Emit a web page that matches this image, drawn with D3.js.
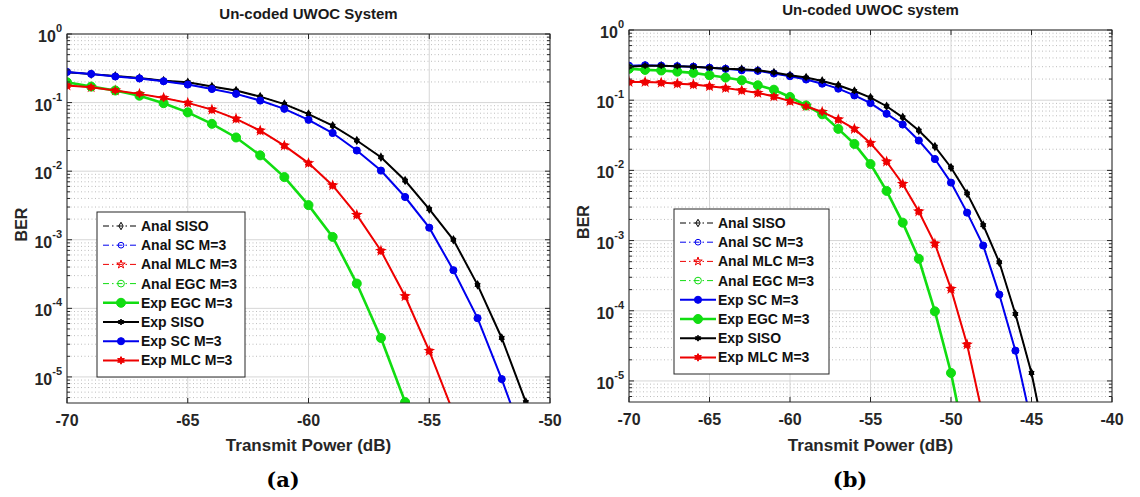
<!DOCTYPE html>
<html>
<head>
<meta charset="utf-8">
<script src="https://cdn.jsdelivr.net/npm/d3@7"></script>
<style>
  body { margin: 0; background: #fff; }
  svg { font-family: "Liberation Sans", Arial, sans-serif; font-weight: bold; }
</style>
</head>
<body>
<svg id="chart" width="1140" height="497"></svg>
<script>
// ---- datos panel (a) ----
const potA = [-70,-69,-68,-67,-66,-65,-64,-63,-62,-61,-60,-59,-58,-57,-56,-55,-54,-53,-52,-51];
const sisoA = [0.277,0.26,0.245,0.229,0.209,0.198,0.171,0.15,0.122,0.095,0.068,0.046,0.028,0.016,0.0073,0.0028,0.001,2.2e-4,3.7e-5,4.3e-6];
const scA   = [0.28,0.262,0.24,0.225,0.205,0.183,0.158,0.134,0.107,0.081,0.056,0.036,0.02,0.0102,0.0042,0.0015,3.6e-4,7.2e-5,9.3e-6,1e-6];
const mlcA  = [0.177,0.167,0.15,0.134,0.117,0.099,0.079,0.058,0.039,0.0236,0.0131,0.0062,0.0023,6.9e-4,1.5e-4,2.4e-5,3e-6];
const egcA  = [0.198,0.171,0.15,0.126,0.098,0.072,0.049,0.031,0.017,0.0082,0.0032,0.0011,2.3e-4,3.7e-5,4.3e-6];

// ---- datos panel (b) ----
const potB = [-70,-69,-68,-67,-66,-65,-64,-63,-62,-61,-60,-59,-58,-57,-56,-55,-54,-53,-52,-51,-50,-49,-48,-47,-46,-45,-44];
const sisoB = [0.30,0.31,0.31,0.305,0.30,0.29,0.28,0.277,0.267,0.248,0.227,0.21,0.188,0.163,0.135,0.109,0.082,0.057,0.037,0.0218,0.011,0.0047,0.00166,4.9e-4,9e-5,1.3e-5,1e-6];
const scB   = [0.31,0.315,0.31,0.305,0.30,0.29,0.28,0.267,0.262,0.24,0.22,0.197,0.172,0.146,0.117,0.091,0.064,0.045,0.0266,0.0145,0.0067,0.0025,8.5e-4,1.7e-4,2.7e-5,2.5e-6];
const mlcB  = [0.182,0.182,0.178,0.172,0.167,0.158,0.149,0.138,0.127,0.113,0.097,0.082,0.068,0.053,0.039,0.0244,0.0133,0.0064,0.0026,9e-4,2.05e-4,3.3e-5,3e-6];
const egcB  = [0.28,0.27,0.265,0.255,0.245,0.227,0.21,0.192,0.163,0.141,0.111,0.084,0.063,0.039,0.0238,0.0123,0.0051,0.0018,5.5e-4,9.8e-5,1.3e-5,1e-6];

const xTicks = { a: [-70,-65,-60,-55,-50], b: [-70,-65,-60,-55,-50,-45,-40] };
const yExps = [0,-1,-2,-3,-4,-5];

const colores = { SISO: "#000000", SC: "#0000ee", MLC: "#ee0000", EGC: "#11dd11" };

// hexagrama tipo matlab
const hexagrama = {
  draw(ctx, size) {
    const r = Math.sqrt(size) * 0.75, ri = r * 0.55;
    for (let i = 0; i < 12; i++) {
      const a = -Math.PI / 2 + i * Math.PI / 6;
      const rr = i % 2 ? ri : r;
      if (i === 0) ctx.moveTo(rr * Math.cos(a), rr * Math.sin(a));
      else ctx.lineTo(rr * Math.cos(a), rr * Math.sin(a));
    }
    ctx.closePath();
  }
};

// estilo de cada curva (analitica = discontinua con marcador hueco)
function estilo(nombre) {
  const anal = nombre.startsWith("Anal");
  const tipo = nombre.split(" ")[1];
  let simbolo = d3.symbolCircle, area = 30;
  if (tipo === "SISO") { simbolo = anal ? d3.symbolDiamond : hexagrama; area = 16; }
  if (tipo === "MLC") { simbolo = anal ? d3.symbolStar : hexagrama; area = anal ? 22 : 26; }
  if (tipo === "SC") { area = anal ? 26 : 40; }
  if (tipo === "EGC") { area = anal ? 36 : 64; }
  return {
    anal, color: colores[tipo], simbolo, area,
    ancho: anal ? 1 : (tipo === "EGC" ? 2.6 : 2),
    dash: anal ? "6,3,1.5,3" : null
  };
}

const svg = d3.select("#chart");

function dibujarPanel(cfg) {
  const x = d3.scaleLinear().domain(cfg.xDom).range([cfg.left, cfg.right]);
  const y = d3.scaleLog().domain([cfg.yMin, 1]).range([cfg.bottom, cfg.top]);
  const g = svg.append("g");

  g.append("rect")
    .attr("x", cfg.left).attr("y", cfg.top)
    .attr("width", cfg.right - cfg.left).attr("height", cfg.bottom - cfg.top)
    .attr("fill", "#fff");

  // rejilla menor (puntos)
  const menores = [];
  yExps.concat([-6]).forEach(e => {
    for (let k = 2; k <= 9; k++) {
      const v = k * Math.pow(10, e);
      if (v > cfg.yMin && v < 1) menores.push(v);
    }
  });
  g.selectAll("line.minor").data(menores).join("line")
    .attr("x1", cfg.left).attr("x2", cfg.right)
    .attr("y1", d => y(d)).attr("y2", d => y(d))
    .attr("stroke", "#b5b5b5").attr("stroke-width", 0.9)
    .attr("stroke-dasharray", "1,2.5");

  // rejilla mayor
  g.selectAll("line.gy").data(yExps.map(e => Math.pow(10, e))).join("line")
    .attr("x1", cfg.left).attr("x2", cfg.right)
    .attr("y1", d => y(d)).attr("y2", d => y(d))
    .attr("stroke", "#d6d6d6").attr("stroke-width", 1);
  g.selectAll("line.gx").data(cfg.xTicks).join("line")
    .attr("x1", d => x(d)).attr("x2", d => x(d))
    .attr("y1", cfg.top).attr("y2", cfg.bottom)
    .attr("stroke", "#d6d6d6").attr("stroke-width", 1);

  // curvas
  const clipId = "clip" + cfg.id;
  svg.append("clipPath").attr("id", clipId).append("rect")
    .attr("x", cfg.left).attr("y", cfg.top)
    .attr("width", cfg.right - cfg.left).attr("height", cfg.bottom - cfg.top);

  const capa = g.append("g").attr("clip-path", `url(#${clipId})`);
  const linea = d3.line().x(d => x(d[0])).y(d => y(d[1]));

  cfg.series.forEach(s => {
    const st = estilo(s.nombre);
    const pts = s.valores.map((v, i) => [cfg.pot[i], v]);
    capa.append("path")
      .attr("d", linea(pts))
      .attr("fill", "none")
      .attr("stroke", st.color)
      .attr("stroke-width", st.ancho)
      .attr("stroke-dasharray", st.dash);
    capa.selectAll(null).data(pts).join("path")
      .attr("transform", d => `translate(${x(d[0])},${y(d[1])})`)
      .attr("d", d3.symbol().type(st.simbolo).size(st.area))
      .attr("fill", st.anal ? "none" : st.color)
      .attr("stroke", st.color)
      .attr("stroke-width", st.anal ? 1.1 : 1);
  });

  // ejes y marcas
  const marco = g.append("g").attr("stroke", "#262626").attr("stroke-width", 1);
  marco.append("rect")
    .attr("x", cfg.left).attr("y", cfg.top)
    .attr("width", cfg.right - cfg.left).attr("height", cfg.bottom - cfg.top)
    .attr("fill", "none");
  cfg.xTicks.forEach(t => {
    marco.append("line").attr("x1", x(t)).attr("x2", x(t)).attr("y1", cfg.bottom).attr("y2", cfg.bottom - 5);
    marco.append("line").attr("x1", x(t)).attr("x2", x(t)).attr("y1", cfg.top).attr("y2", cfg.top + 5);
  });
  yExps.forEach(e => {
    const yy = y(Math.pow(10, e));
    marco.append("line").attr("x1", cfg.left).attr("x2", cfg.left + 5).attr("y1", yy).attr("y2", yy);
    marco.append("line").attr("x1", cfg.right).attr("x2", cfg.right - 5).attr("y1", yy).attr("y2", yy);
  });
  menores.forEach(v => {
    marco.append("line").attr("x1", cfg.left).attr("x2", cfg.left + 3).attr("y1", y(v)).attr("y2", y(v));
    marco.append("line").attr("x1", cfg.right).attr("x2", cfg.right - 3).attr("y1", y(v)).attr("y2", y(v));
  });

  // etiquetas de ticks
  g.selectAll("text.xt").data(cfg.xTicks).join("text")
    .attr("x", d => x(d)).attr("y", cfg.bottom + 23)
    .attr("text-anchor", "middle").style("font-size", "16px")
    .attr("fill", "#262626")
    .text(d => d);

  yExps.forEach(e => {
    const t = g.append("text")
      .attr("x", cfg.left - 5).attr("y", y(Math.pow(10, e)) + 8)
      .attr("text-anchor", "end").attr("fill", "#262626")
      .style("font-size", "16px");
    t.append("tspan").text("10");
    t.append("tspan").attr("dy", -10).style("font-size", "11px").text(e === 0 ? "0" : "-" + Math.abs(e));
  });

  // titulos
  const cx = (cfg.left + cfg.right) / 2;
  g.append("text").attr("x", cx).attr("y", cfg.top - 15)
    .attr("text-anchor", "middle").style("font-size", "15px").attr("fill", "#1a1a1a")
    .text(cfg.titulo);
  g.append("text").attr("x", cx).attr("y", 451)
    .attr("text-anchor", "middle").style("font-size", "17px").attr("fill", "#262626")
    .text("Transmit Power (dB)");
  g.append("text")
    .attr("transform", `translate(${cfg.left - 40},${(cfg.top + cfg.bottom) / 2 + 6}) rotate(-90)`)
    .attr("text-anchor", "middle").style("font-size", "16px").attr("fill", "#262626")
    .text("BER");
  g.append("text").attr("x", cfg.etiquetaX).attr("y", 487)
    .attr("text-anchor", "middle")
    .style("font-family", "'DejaVu Serif', serif").style("font-size", "21px")
    .text(cfg.etiqueta);

  // leyenda
  const ley = g.append("g").attr("transform", `translate(${cfg.leyX},${cfg.leyY})`);
  ley.append("rect").attr("width", cfg.leyW).attr("height", 165)
    .attr("fill", "#fff").attr("stroke", "#262626").attr("stroke-width", 1);
  cfg.series.forEach((s, i) => {
    const st = estilo(s.nombre);
    const yy = 14 + i * 19.2;
    ley.append("line").attr("x1", 6).attr("x2", 42).attr("y1", yy).attr("y2", yy)
      .attr("stroke", st.color).attr("stroke-width", st.ancho)
      .attr("stroke-dasharray", st.dash);
    ley.append("path").attr("transform", `translate(24,${yy})`)
      .attr("d", d3.symbol().type(st.simbolo).size(st.area))
      .attr("fill", st.anal ? "none" : st.color).attr("stroke", st.color);
    ley.append("text").attr("x", 44).attr("y", yy + 5)
      .style("font-size", "14px").attr("fill", "#111")
      .text(s.nombre);
  });
}

dibujarPanel({
  id: "a", titulo: "Un-coded UWOC System", etiqueta: "(a)", etiquetaX: 283,
  left: 67, right: 550, top: 34, bottom: 403, yMin: Math.pow(10, -5.38),
  xDom: [-70, -50], xTicks: xTicks.a, pot: potA,
  leyX: 97, leyY: 212, leyW: 148,
  series: [
    { nombre: "Anal SISO", valores: sisoA },
    { nombre: "Anal SC M=3", valores: scA },
    { nombre: "Anal MLC M=3", valores: mlcA },
    { nombre: "Anal EGC M=3", valores: egcA },
    { nombre: "Exp EGC M=3", valores: egcA },
    { nombre: "Exp SISO", valores: sisoA },
    { nombre: "Exp SC M=3", valores: scA },
    { nombre: "Exp MLC M=3", valores: mlcA }
  ]
});

dibujarPanel({
  id: "b", titulo: "Un-coded UWOC system", etiqueta: "(b)", etiquetaX: 850,
  left: 629, right: 1112, top: 30, bottom: 402, yMin: Math.pow(10, -5.3),
  xDom: [-70, -40], xTicks: xTicks.b, pot: potB,
  leyX: 674, leyY: 209, leyW: 155,
  series: [
    { nombre: "Anal SISO", valores: sisoB },
    { nombre: "Anal SC M=3", valores: scB },
    { nombre: "Anal MLC M=3", valores: mlcB },
    { nombre: "Anal EGC M=3", valores: egcB },
    { nombre: "Exp SC M=3", valores: scB },
    { nombre: "Exp EGC M=3", valores: egcB },
    { nombre: "Exp SISO", valores: sisoB },
    { nombre: "Exp MLC M=3", valores: mlcB }
  ]
});
</script>
</body>
</html>
